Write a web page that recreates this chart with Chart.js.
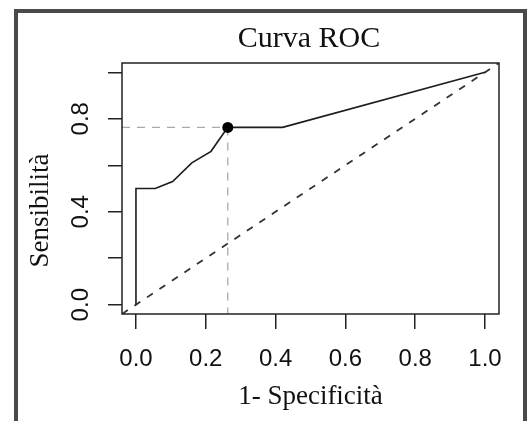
<!DOCTYPE html>
<html>
<head>
<meta charset="utf-8">
<script src="https://cdn.jsdelivr.net/npm/chart.js@4.4.0/dist/chart.umd.min.js"></script>
<style>
  body { margin: 0; background: #fff; }
  #wrap { position: relative; width: 531px; height: 421px; overflow: hidden; }
  #frame { position: absolute; left: 14px; top: 9px; width: 513px; height: 500px;
           border: 4px solid #4a4a46; border-bottom: none; box-sizing: border-box; }
  canvas { position: absolute; left: 0; top: 0; }
</style>
</head>
<body>
<div id="wrap">
  <div id="frame"></div>
  <canvas id="roc" width="531" height="421"></canvas>
</div>
<script>
// ROC curve
const fpr = [0, 0, 0.055, 0.105, 0.16, 0.215, 0.263, 0.42, 1];
const tpr = [0, 0.5, 0.5, 0.53, 0.61, 0.66, 0.763, 0.763, 1];

// best cut-off point
const cutX = 0.263;
const cutY = 0.763;

const xTicks = [0, 0.2, 0.4, 0.6, 0.8, 1];
const xTickLabels = ['0.0', '0.2', '0.4', '0.6', '0.8', '1.0'];
const yTicks = [0, 0.2, 0.4, 0.6, 0.8, 1];
const yTickLabels = ['0.0', '', '0.4', '', '0.8', ''];

const axisMin = -0.04;
const axisMax = 1.04;

const titleText = 'Curva ROC';
const xTitle = '1- Specificità';
const yTitle = 'Sensibilità';

const ctx = document.getElementById('roc').getContext('2d');

// box, main title, rotated y labels (R style)
const rDecor = {
    id: 'rDecor',
    afterDraw(chart) {
        const c = chart.ctx;
        const a = chart.chartArea;
        const y = chart.scales.y;
        c.save();
        c.strokeStyle = '#222';
        c.lineWidth = 1.5;
        c.strokeRect(a.left, a.top, a.right - a.left, a.bottom - a.top);

        c.fillStyle = '#111';
        c.textAlign = 'center';
        c.textBaseline = 'alphabetic';
        c.font = '30px "Liberation Serif"';
        c.fillText(titleText, (a.left + a.right) / 2 - 1.5, 47);

        c.font = '24px "Liberation Sans"';
        yTicks.forEach((v, i) => {
            if (!yTickLabels[i]) return;
            c.save();
            c.translate(a.left - 34, y.getPixelForValue(v));
            c.rotate(-Math.PI / 2);
            c.fillText(yTickLabels[i], 0, 0);
            c.restore();
        });

        c.font = '27px "Liberation Serif"';
        c.save();
        c.translate(a.left - 74, (a.top + a.bottom) / 2 + 22);
        c.rotate(-Math.PI / 2);
        c.fillText(yTitle, 0, 0);
        c.restore();
        c.restore();
    }
};

const chart = new Chart(ctx, {
    type: 'scatter',
    data: {
        datasets: [
            {
                label: 'cut-off',
                data: [{x: cutX, y: cutY}],
                pointRadius: 5.5,
                backgroundColor: '#000',
                borderWidth: 0,
                order: 0
            },
            {
                label: 'ROC',
                data: fpr.map((v, i) => ({x: v, y: tpr[i]})),
                showLine: true,
                borderColor: '#1c1c1c',
                borderWidth: 1.6,
                pointRadius: 0,
                order: 1
            },
            {
                label: 'chance',
                data: [{x: axisMin, y: axisMin}, {x: axisMax, y: axisMax}],
                showLine: true,
                borderColor: '#333',
                borderWidth: 1.8,
                borderDash: [7, 8],
                pointRadius: 0,
                order: 2
            },
            {
                label: 'cutH',
                data: [{x: axisMin, y: cutY}, {x: cutX, y: cutY}],
                showLine: true,
                borderColor: '#aaa',
                borderWidth: 1.3,
                borderDash: [8, 7],
                pointRadius: 0,
                order: 3
            },
            {
                label: 'cutV',
                data: [{x: cutX, y: cutY}, {x: cutX, y: axisMin}],
                showLine: true,
                borderColor: '#aaa',
                borderWidth: 1.3,
                borderDash: [8, 7],
                pointRadius: 0,
                order: 3
            }
        ]
    },
    options: {
        responsive: false,
        animation: false,
        layout: {
            padding: {top: 63, right: 32, left: 0, bottom: 0}
        },
        plugins: {
            legend: {display: false},
            tooltip: {enabled: false},
            title: {display: false}
        },
        scales: {
            x: {
                type: 'linear',
                min: axisMin,
                max: axisMax,
                afterBuildTicks: s => { s.ticks = xTicks.map(v => ({value: v})); },
                afterFit: s => { s.height = 107; },
                ticks: {
                    callback: v => xTickLabels[xTicks.indexOf(v)],
                    autoSkip: false,
                    maxRotation: 0,
                    padding: 16,
                    color: '#111',
                    font: {family: 'Liberation Sans', size: 24}
                },
                grid: {
                    drawOnChartArea: false,
                    tickLength: 15,
                    color: '#222',
                    lineWidth: 1.5
                },
                border: {display: false},
                title: {
                    display: true,
                    text: xTitle,
                    color: '#111',
                    font: {family: 'Liberation Serif', size: 27},
                    padding: {top: 0, bottom: 8}
                }
            },
            y: {
                type: 'linear',
                min: axisMin,
                max: axisMax,
                afterBuildTicks: s => { s.ticks = yTicks.map(v => ({value: v})); },
                afterFit: s => { s.width = 122; },
                ticks: {display: false},
                grid: {
                    drawOnChartArea: false,
                    tickLength: 14,
                    color: '#222',
                    lineWidth: 1.5
                },
                border: {display: false}
            }
        }
    },
    plugins: [rDecor]
});
</script>
</body>
</html>
